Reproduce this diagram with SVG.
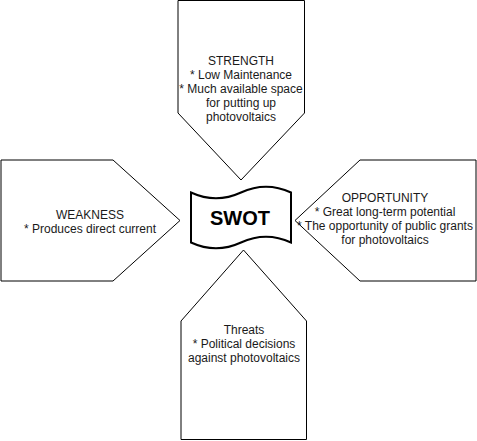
<svg xmlns="http://www.w3.org/2000/svg" width="477" height="441" viewBox="0 0 477 441">
  <style>
    .box { fill: #ffffff; stroke: #000000; stroke-width: 1; }
    .tape { fill: #ffffff; stroke: #000000; stroke-width: 2; }
    .lbl { font-family: "Liberation Sans", Arial, Helvetica, sans-serif; font-size: 12px; fill: #1a1a1a; text-anchor: middle; }
    .title { font-family: "Liberation Sans", Arial, Helvetica, sans-serif; font-size: 20px; font-weight: bold; fill: #000000; text-anchor: middle; }
  </style>
  <rect width="477" height="441" fill="#ffffff"/>

  <!-- Strength: pentagon pointing down -->
  <g id="strength">
    <polygon class="box" points="178,0.5 304.5,0.5 304.5,113 241,180 178,113"/>
    <text class="lbl" x="241" y="65">STRENGTH</text>
    <text class="lbl" x="241" y="79">* Low Maintenance</text>
    <text class="lbl" x="241" y="93">* Much available space</text>
    <text class="lbl" x="241" y="107">for putting up</text>
    <text class="lbl" x="241" y="121">photovoltaics</text>
  </g>

  <!-- Weakness: pentagon pointing right -->
  <g id="weakness">
    <polygon class="box" points="1,160 113,160 180,220.5 113,281 1,281"/>
    <text class="lbl" x="90" y="219">WEAKNESS</text>
    <text class="lbl" x="90" y="233">* Produces direct current</text>
  </g>

  <!-- Opportunity: pentagon pointing left -->
  <g id="opportunity">
    <polygon class="box" points="295,220.5 360,160 476,160 476,281 360,281"/>
    <text class="lbl" x="385" y="202">OPPORTUNITY</text>
    <text class="lbl" x="385" y="216">* Great long-term potential</text>
    <text class="lbl" x="385" y="230">* The opportunity of public grants</text>
    <text class="lbl" x="385" y="244">for photovoltaics</text>
  </g>

  <!-- Threats: pentagon pointing up -->
  <g id="threats">
    <polygon class="box" points="181,321 243.5,250 306.5,321 306.5,439.5 181,439.5"/>
    <text class="lbl" x="244" y="334">Threats</text>
    <text class="lbl" x="244" y="348">* Political decisions</text>
    <text class="lbl" x="244" y="362">against photovoltaics</text>
  </g>

  <!-- Centre: SWOT tape -->
  <g id="swot">
    <path class="tape" d="M191,192.5 Q216,204 241,192.5 Q266,181 291,192.5 L291,242.5 Q266,231 241,242.5 Q216,254 191,242.5 Z"/>
    <text class="title" x="240" y="225">SWOT</text>
  </g>

  <g id="connectors"/>
</svg>
